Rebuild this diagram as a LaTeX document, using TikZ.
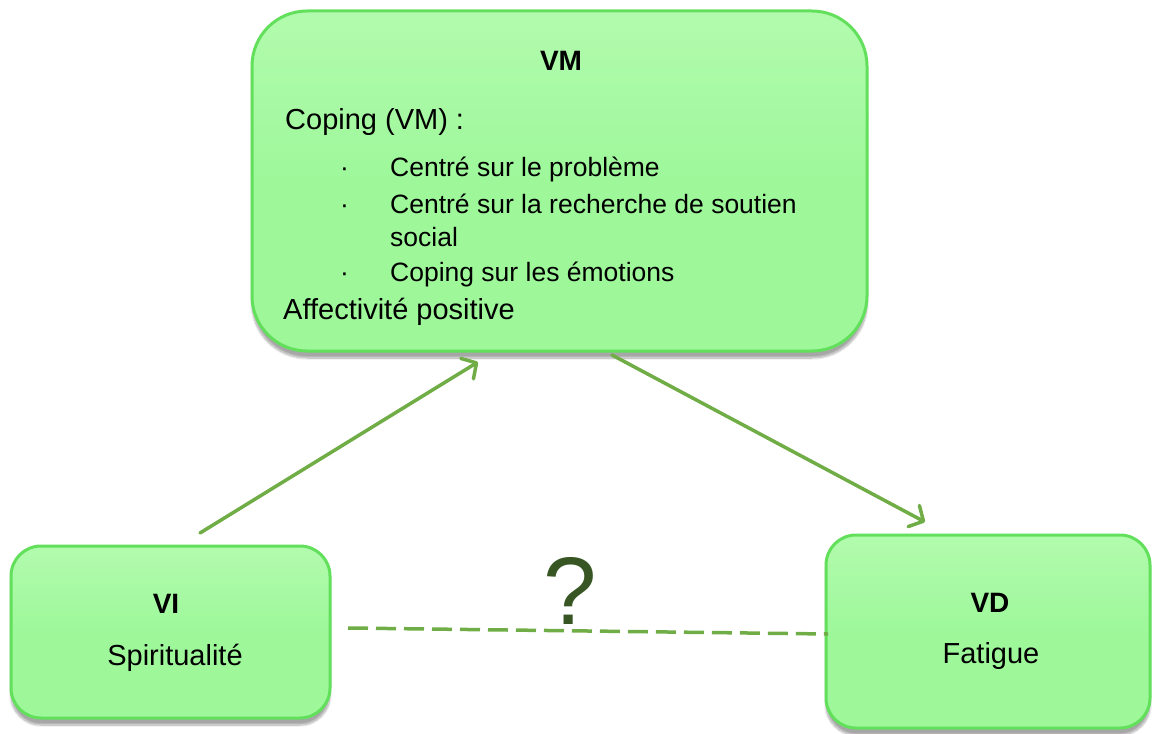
\documentclass[tikz,border=0pt]{standalone}
\usepackage{fontspec}
\setmainfont{Liberation Sans}
\usetikzlibrary{arrows.meta,shadows.blur}
\definecolor{boxfill}{HTML}{9EF89A}
\definecolor{boxtop}{HTML}{B2FBAE}
\definecolor{boxline}{HTML}{62E05C}
\definecolor{arrowgreen}{HTML}{70AD47}
\definecolor{qgreen}{HTML}{375623}
\tikzset{
  greenbox/.style={draw=boxline, line width=3pt, top color=boxtop, bottom color=boxfill, middle color=boxfill,
    blur shadow={shadow xshift=0pt, shadow yshift=-7pt, shadow opacity=35, shadow blur steps=10}},
  body/.style={font=\fontsize{29}{35}\selectfont, inner sep=0pt, anchor=base west},
  bodyc/.style={font=\fontsize{29}{35}\selectfont, inner sep=0pt, anchor=base},
  title/.style={font=\fontsize{28}{34}\selectfont\bfseries, inner sep=0pt, anchor=base},
  item/.style={font=\fontsize{26.5}{32}\selectfont, inner sep=0pt, anchor=base west},
  link/.style={draw=arrowgreen, line width=3.5pt, line cap=round},
  tip/.style={-{Straight Barb[length=11pt, width=24pt, line cap=round, line join=round]}},
}
\begin{document}
\begin{tikzpicture}[x=1pt, y=-1pt]
\useasboundingbox (0,0) rectangle (1153,733);
% boxes
\path[greenbox, rounded corners=55pt] (252,11) rectangle (867,351);
\node[inner sep=0pt, minimum size=0pt] (vm) at (559.5,181) {};
\path[greenbox, rounded corners=30pt] (11,546) rectangle (330,718);
\node[inner sep=0pt] (vi) at (170.5,632) {};
\path[greenbox, rounded corners=30pt] (826,535) rectangle (1150,728);
\node[inner sep=0pt] (vd) at (988,631) {};
% texts
\node[title] (vmt) at (561,71) {VM};
\node[body] (cop) at (285,129) {Coping (VM) :};
\node[item] (d1) at (340,176) {·};
\node[item] (i1) at (390,176) {Centré sur le problème};
\node[item] (d2) at (340,213) {·};
\node[item] (i2) at (390,213) {Centré sur la recherche de soutien};
\node[item] (i2b) at (390,246) {social};
\node[item] (d3) at (340,281) {·};
\node[item] (i3) at (390,281) {Coping sur les émotions};
\node[body] (aff) at (283,319) {Affectivité positive};
\node[title] (vit) at (166,613) {VI};
\node[bodyc] (vib) at (175,665) {Spiritualité};
\node[title] (vdt) at (990,612) {VD};
\node[bodyc] (vdb) at (991,663) {Fatigue};
% connectors
\coordinate (a1s) at (200,533);
\coordinate (a1e) at (478,362);
\coordinate (a2s) at (612,355);
\coordinate (a2e) at (925,522);
\coordinate (ds) at (348,628);
\coordinate (de) at (828,634);
\draw[link, tip] (a1s) -- (a1e);
\draw[link, tip] (a2s) -- (a2e);
\draw[draw=arrowgreen, line width=3.5pt, dash pattern=on 20pt off 8pt] (ds) -- (de);
\node[font=\fontsize{96}{100}\selectfont, text=qgreen, inner sep=0pt, anchor=base] (q) at (570,624) {?};
\end{tikzpicture}
\end{document}
